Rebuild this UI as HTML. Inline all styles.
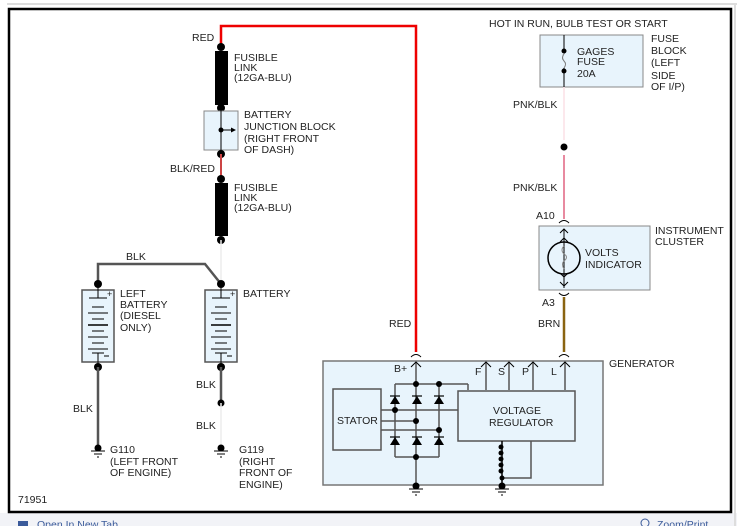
<!DOCTYPE html>
<html><head><meta charset="utf-8"><style>
html,body{margin:0;padding:0;background:#fff;width:737px;height:526px;overflow:hidden}
svg{display:block}
text{font-family:"Liberation Sans",sans-serif;font-size:10.5px;fill:#222}
</style></head><body>
<svg width="737" height="526" viewBox="0 0 737 526">
<rect x="0" y="0" width="737" height="526" fill="#fff"/>
<line x1="7" y1="4" x2="737" y2="4" stroke="#ddd" stroke-width="2"/>
<rect x="0" y="513" width="737" height="13" fill="#f2f3f7"/>
<line x1="735" y1="4" x2="735" y2="526" stroke="#ddd" stroke-width="2"/>
<rect x="9" y="9" width="722" height="503" fill="#fff" stroke="#000" stroke-width="2.5"/>
<text x="37" y="528" fill="#3a5a9a" style="fill:#3a5a9a">Open In New Tab</text>
<rect x="18" y="521" width="10" height="8" fill="#3a5a9a"/>
<circle cx="645" cy="523" r="4" fill="none" stroke="#3a5a9a"/>
<text x="657" y="528" style="fill:#3a5a9a">Zoom/Print</text>

<!-- red wire -->
<polyline points="221,47 221,26 416,26 416,352" fill="none" stroke="#e00" stroke-width="2.5"/>
<text x="192" y="41">RED</text>
<circle cx="221" cy="47" r="4" fill="#000"/>
<rect x="215" y="51" width="13" height="54" fill="#000"/>
<text x="234" y="61">FUSIBLE</text><text x="234" y="71">LINK</text><text x="234" y="81">(12GA-BLU)</text>
<circle cx="221" cy="108" r="4" fill="#000"/>
<rect x="204" y="111" width="34" height="39" fill="#e8f4fc" stroke="#888"/>
<line x1="221" y1="108" x2="221" y2="154" stroke="#000"/>
<circle cx="221" cy="130" r="2.5" fill="#000"/>
<line x1="221" y1="130" x2="232" y2="130" stroke="#000"/>
<polygon points="236,130 231,127.5 231,132.5" fill="#000"/>
<text x="244" y="118">BATTERY</text><text x="244" y="130">JUNCTION BLOCK</text><text x="244" y="142">(RIGHT FRONT</text><text x="244" y="153">OF DASH)</text>
<circle cx="221" cy="154" r="4" fill="#000"/>
<line x1="221" y1="154" x2="221" y2="179" stroke="#c44" stroke-width="2"/>
<text x="170" y="172">BLK/RED</text>
<circle cx="221" cy="179" r="4" fill="#000"/>
<rect x="215" y="183" width="13" height="53" fill="#000"/>
<text x="234" y="191">FUSIBLE</text><text x="234" y="201">LINK</text><text x="234" y="211">(12GA-BLU)</text>
<circle cx="221" cy="240" r="4" fill="#000"/>
<line x1="221" y1="240" x2="221" y2="284" stroke="#ececec" stroke-width="1.5"/>

<!-- BLK between batteries -->
<polyline points="98,284 98,264 205,264 221,284" fill="none" stroke="#555" stroke-width="2.5"/>
<text x="126" y="260">BLK</text>
<circle cx="98" cy="284" r="4" fill="#000"/>
<circle cx="221" cy="284" r="4" fill="#000"/>

<!-- batteries -->
<g id="bat">
<rect x="82" y="290" width="32" height="72" fill="#e8f4fc" stroke="#555" stroke-width="1.5"/>
<line x1="98" y1="284" x2="98" y2="298" stroke="#000"/>
<line x1="89" y1="298" x2="107" y2="298" stroke="#000"/>
<text x="107" y="297" style="font-size:9px">+</text>
<g stroke="#000">
<line x1="92" y1="307" x2="104" y2="307"/><line x1="88" y1="313" x2="108" y2="313"/>
<line x1="92" y1="319" x2="104" y2="319"/><line x1="88" y1="325" x2="108" y2="325" stroke-width="1.5"/>
<line x1="92" y1="331" x2="104" y2="331"/><line x1="88" y1="337" x2="108" y2="337"/>
<line x1="92" y1="343" x2="104" y2="343"/><line x1="88" y1="349" x2="108" y2="349"/>
<line x1="92" y1="353" x2="104" y2="353"/>
<line x1="98" y1="353" x2="98" y2="367"/>
</g>
<line x1="104" y1="356" x2="109" y2="356" stroke="#000"/>
</g>
<use href="#bat" transform="translate(123,0)"/>
<circle cx="98" cy="367" r="4" fill="#000"/>
<circle cx="221" cy="367" r="4" fill="#000"/>
<text x="120" y="297">LEFT</text><text x="120" y="308">BATTERY</text><text x="120" y="319">(DIESEL</text><text x="120" y="331">ONLY)</text>
<text x="243" y="297">BATTERY</text>

<line x1="98" y1="367" x2="98" y2="445" stroke="#555" stroke-width="2.5"/>
<text x="73" y="412">BLK</text>
<line x1="221" y1="367" x2="221" y2="403" stroke="#555" stroke-width="2.5"/>
<circle cx="221" cy="403" r="3.5" fill="#000"/>
<line x1="221" y1="403" x2="221" y2="445" stroke="#ececec" stroke-width="1.5"/>
<text x="196" y="388">BLK</text><text x="196" y="429">BLK</text>
<g id="gnd">
<circle cx="98" cy="448" r="3.5" fill="#000"/>
<line x1="91" y1="451" x2="105" y2="451" stroke="#000"/>
<line x1="94" y1="454" x2="102" y2="454" stroke="#000"/>
<line x1="97" y1="457" x2="99" y2="457" stroke="#000"/>
</g>
<use href="#gnd" transform="translate(123,0)"/>
<text x="110" y="453">G110</text><text x="110" y="465">(LEFT FRONT</text><text x="110" y="476">OF ENGINE)</text>
<text x="239" y="453">G119</text><text x="239" y="465">(RIGHT</text><text x="239" y="476">FRONT OF</text><text x="239" y="488">ENGINE)</text>
<text x="18" y="503">71951</text>

<!-- right side -->
<text x="489" y="27">HOT IN RUN, BULB TEST OR START</text>
<rect x="540" y="35" width="103" height="52" fill="#e8f4fc" stroke="#888"/>
<line x1="564" y1="35" x2="564" y2="87" stroke="#000"/>
<circle cx="564" cy="51" r="2.5" fill="#000"/><circle cx="564" cy="71" r="2.5" fill="#000"/>
<path d="M564,53 c-3,4 3,8 0,12" fill="none" stroke="#888" stroke-width="1"/>
<rect x="563" y="54" width="3" height="14" fill="#e8f4fc"/>
<path d="M564,54 q-3,4 0,7 q3,3 0,7" fill="none" stroke="#777"/>
<text x="577" y="55">GAGES</text><text x="577" y="65">FUSE</text><text x="577" y="77">20A</text>
<text x="651" y="42">FUSE</text><text x="651" y="54">BLOCK</text><text x="651" y="66">(LEFT</text><text x="651" y="79">SIDE</text><text x="651" y="90">OF I/P)</text>
<line x1="564" y1="87" x2="564" y2="140" stroke="#fbe0e6" stroke-width="1.5"/>
<text x="513" y="108">PNK/BLK</text>
<circle cx="564" cy="147" r="3.5" fill="#000"/>
<line x1="564" y1="155" x2="564" y2="219" stroke="#e88aa0" stroke-width="2"/>
<text x="513" y="191">PNK/BLK</text>
<text x="536" y="219">A10</text>
<path d="M559,223 q5,-5 10,0" fill="none" stroke="#000"/>
<rect x="539" y="226" width="111" height="64" fill="#e8f4fc" stroke="#888"/>
<line x1="564" y1="229" x2="564" y2="288" stroke="#000"/>
<g fill="none" stroke="#000">
<polyline points="560,233 564,229 568,233"/><polyline points="560,242 564,238 568,242"/>
<polyline points="560,273 564,277 568,273"/><polyline points="560,282 564,286 568,282"/>
</g>
<circle cx="564" cy="258" r="16" fill="none" stroke="#000" stroke-width="1.5"/>
<path d="M564,246 q-4,4 0,8 q5,3 0,7 q-3,3 0,8" fill="none" stroke="#888"/>
<text x="585" y="256">VOLTS</text><text x="585" y="268">INDICATOR</text>
<text x="655" y="234">INSTRUMENT</text><text x="655" y="245">CLUSTER</text>
<path d="M559,293 q5,5 10,0" fill="none" stroke="#000"/>
<text x="542" y="306">A3</text>
<line x1="564" y1="297" x2="564" y2="352" stroke="#8a6410" stroke-width="2.5"/>
<text x="538" y="327">BRN</text>
<path d="M559,357 q5,-5 10,0" fill="none" stroke="#000"/>
<path d="M411,357 q5,-5 10,0" fill="none" stroke="#000"/>
<text x="389" y="327">RED</text>

<!-- generator -->
<rect x="323" y="361" width="280" height="124" fill="#e8f4fc" stroke="#777" stroke-width="1.5"/>
<text x="609" y="367">GENERATOR</text>
<g stroke="#555" stroke-width="1.5" fill="none">
<line x1="416" y1="362" x2="416" y2="485"/>
<line x1="395" y1="384" x2="468" y2="384"/><line x1="468" y1="384" x2="468" y2="390"/>
<line x1="395" y1="384" x2="395" y2="457"/><line x1="439" y1="384" x2="439" y2="457"/>
<line x1="395" y1="457" x2="439" y2="457"/>
<line x1="380" y1="410" x2="458" y2="410"/>
<line x1="380" y1="421" x2="416" y2="421"/>
<line x1="380" y1="430" x2="439" y2="430"/>
<line x1="486" y1="362" x2="486" y2="390"/><line x1="509" y1="362" x2="509" y2="390"/>
<line x1="533" y1="362" x2="533" y2="390"/><line x1="565" y1="362" x2="565" y2="390"/>
<polyline points="503,478 531,478 531,440"/>
</g>
<g fill="none" stroke="#000" stroke-width="1">
<polyline points="411,367 416,362 421,367"/><polyline points="481,367 486,362 491,367"/>
<polyline points="504,367 509,362 514,367"/><polyline points="528,367 533,362 538,367"/>
<polyline points="560,367 565,362 570,367"/>
</g>
<rect x="333" y="389" width="48" height="61" fill="#e8f4fc" stroke="#555" stroke-width="1.5"/>
<text x="337" y="424">STATOR</text>
<rect x="458" y="391" width="117" height="50" fill="#e8f4fc" stroke="#555" stroke-width="1.5"/>
<text x="493" y="414">VOLTAGE</text><text x="489" y="426">REGULATOR</text>
<text x="394" y="372">B+</text><text x="475" y="375">F</text><text x="498" y="375">S</text><text x="522" y="375">P</text><text x="551" y="375">L</text>
<g fill="#000">
<polygon points="390,404 400,404 395,396"/><polygon points="412,404 422,404 417,396"/><polygon points="434,404 444,404 439,396"/>
<polygon points="390,445 400,445 395,437"/><polygon points="412,445 422,445 417,437"/><polygon points="434,445 444,445 439,437"/>
</g>
<g stroke="#000" stroke-width="1.2">
<line x1="390" y1="396" x2="400" y2="396"/><line x1="412" y1="396" x2="422" y2="396"/><line x1="434" y1="396" x2="444" y2="396"/>
<line x1="390" y1="437" x2="400" y2="437"/><line x1="412" y1="437" x2="422" y2="437"/><line x1="434" y1="437" x2="444" y2="437"/>
</g>
<g fill="#000">
<circle cx="416" cy="384" r="3"/><circle cx="439" cy="384" r="3"/>
<circle cx="395" cy="410" r="3"/><circle cx="416" cy="421" r="3"/><circle cx="439" cy="430" r="3"/>
<circle cx="416" cy="457" r="3"/>
<circle cx="501" cy="447" r="2.5"/><circle cx="501" cy="453" r="2.5"/><circle cx="501" cy="459" r="2.5"/>
<circle cx="501" cy="465" r="2.5"/><circle cx="501" cy="471" r="2.5"/><circle cx="502" cy="478" r="2.5"/>
</g>
<line x1="502" y1="441" x2="502" y2="485" stroke="#000" stroke-width="1.5"/>
<use href="#gnd" transform="translate(318,38)"/>
<use href="#gnd" transform="translate(404,38)"/>
</svg>
</body></html>
